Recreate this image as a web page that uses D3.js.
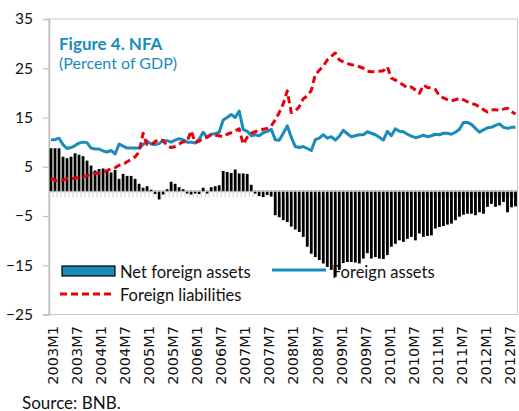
<!DOCTYPE html>
<html>
<head>
<meta charset="utf-8">
<script src="https://cdn.jsdelivr.net/npm/d3@7/dist/d3.min.js"></script>
<style>
  html, body { margin: 0; padding: 0; background: #fff; }
  svg { display: block; }
</style>
</head>
<body>
<svg id="chart" width="519" height="411"></svg>
<script>
// Monthly observations, 2003M1 – 2012M9 (percent of GDP)
const months = [];
for (let y = 2003; y <= 2012; y++) {
  for (let m = 1; m <= 12; m++) {
    if (y === 2012 && m > 9) break;
    months.push(y + "M" + m);
  }
}

const netForeignAssets = [
  8.6, 8.6, 8.6, 6.9, 6.6, 6.9, 7.6, 7.3, 7.0, 6.1, 5.1, 4.1,
  4.4, 4.5, 4.1, 3.7, 4.2, 2.4, 3.4, 3.0, 3.0, 2.4, 1.4, 0.6,
  0.9, 0.2, -0.4, -1.5, -0.5, 0.3, 1.8, 1.4, 0.7, 0.3, -0.3, -0.5,
  -0.3, -0.4, 0.6, -0.3, 0.7, 0.9, 1.1, 4.0, 3.8, 3.6, 4.3, 3.5,
  3.5, 3.4, 1.2, -0.3, -0.8, -1.0, -0.6, -0.9, -4.7, -5.1, -5.7, -6.1,
  -7.0, -7.6, -8.1, -9.1, -11.1, -12.5, -13.2, -13.8, -14.5, -15.2, -15.8, -17.2,
  -15.8, -14.4, -14.2, -14.2, -14.3, -14.5, -13.5, -12.4, -13.5, -13.2, -13.5, -13.6,
  -12.8, -11.1, -10.5, -9.8, -10.1, -9.5, -9.1, -9.8, -8.4, -9.1, -8.9, -8.8,
  -7.4, -7.1, -6.9, -6.6, -6.4, -5.7, -5.0, -4.6, -4.4, -4.4, -4.7, -4.1,
  -4.4, -3.0, -2.4, -3.0, -2.7, -2.0, -4.1, -3.1, -2.9
];

const foreignAssets = [
  10.5, 10.5, 10.8, 9.5, 8.7, 8.9, 9.3, 9.8, 10.0, 9.9, 8.8, 8.6,
  8.6, 8.2, 8.0, 8.3, 7.6, 9.6, 9.2, 8.8, 8.8, 8.8, 8.8, 9.5,
  10.2, 9.6, 9.5, 9.7, 10.3, 10.3, 10.0, 10.4, 10.7, 10.5, 10.0, 10.0,
  9.8, 10.6, 12.0, 11.0, 11.6, 11.7, 12.0, 14.5, 15.0, 15.6, 15.0, 16.3,
  12.6, 12.2, 11.3, 11.5, 11.3, 11.9, 12.2, 12.6, 10.5, 10.4, 11.8, 13.3,
  11.0, 9.1, 8.9, 9.1, 8.7, 8.3, 10.5, 10.8, 11.5, 10.8, 11.1, 10.4,
  11.2, 12.4, 11.7, 11.1, 11.3, 11.5, 11.5, 12.1, 11.8, 11.5, 11.0, 10.4,
  12.2, 11.3, 12.7, 12.2, 12.1, 11.6, 11.2, 10.9, 11.1, 11.4, 11.1, 11.3,
  11.6, 11.5, 11.8, 11.8, 11.6, 12.0, 12.6, 14.0, 14.0, 13.6, 12.8, 12.0,
  12.5, 12.9, 13.0, 13.4, 13.7, 13.0, 12.8, 13.0, 13.0
];

const foreignLiabilities = [
  2.7, 2.2, 2.1, 2.3, 2.6, 2.6, 2.7, 2.8, 2.9, 3.2, 3.5, 3.7,
  3.7, 4.0, 4.2, 4.6, 4.8, 5.3, 5.5, 6.0, 6.5, 7.0, 8.0, 11.8,
  9.5, 9.5, 10.1, 10.6, 10.3, 9.2, 8.9, 9.1, 9.6, 10.1, 10.1, 12.3,
  9.9, 10.2, 10.8, 11.0, 11.5, 11.4, 11.3, 11.1, 11.6, 11.9, 12.3, 12.7,
  9.6, 11.0, 11.8, 12.1, 12.4, 12.6, 12.8, 13.3, 14.5, 16.0, 17.8, 20.4,
  16.0, 16.3, 17.2, 18.8, 19.4, 20.5, 23.7, 24.6, 25.4, 26.7, 27.4, 28.1,
  26.7, 26.3, 26.0, 25.7, 25.6, 25.3, 25.0, 24.4, 24.3, 24.3, 24.4, 24.5,
  25.3, 23.0, 22.6, 22.1, 21.6, 21.0, 21.2, 20.6, 19.9, 21.6, 21.1, 21.0,
  20.7, 19.4, 19.0, 18.6, 18.4, 18.6, 18.9, 18.6, 18.2, 17.9, 17.6, 17.2,
  16.6, 16.1, 16.5, 16.6, 16.4, 16.7, 16.9, 16.2, 15.7
];

const yTicks = [35, 25, 15, 5, -5, -15, -25];
const xTickLabels = months.filter((d, i) => i % 6 === 0);

const titleText = "Figure 4. NFA";
const subtitleText = "(Percent of GDP)";
const sourceText = "Source: BNB.";
const seriesNames = ["Net foreign assets", "Foreign assets", "Foreign liabilities"];

// ---- drawing ----
const BLUE = "#1a8cba";
const RED = "#e8000b";
const GRID = "#c0c0c0";
const FONT = "Lato, 'Noto Sans', sans-serif";

const svg = d3.select("#chart");
const plot = { left: 49, right: 517.5, top: 19, bottom: 314.5 };

const x = d3.scaleBand()
  .domain(months)
  .range([plot.left, plot.right])
  .paddingInner(0)
  .paddingOuter(0);

const y = d3.scaleLinear()
  .domain([-25, 35])
  .range([plot.bottom, plot.top]);

// plot frame
svg.append("rect")
  .attr("x", plot.left).attr("y", plot.top)
  .attr("width", plot.right - plot.left)
  .attr("height", plot.bottom - plot.top)
  .attr("fill", "none")
  .attr("stroke", "#c8c8c8")
  .attr("stroke-width", 1);

// left value axis
const yAxis = svg.append("g")
  .attr("transform", `translate(${plot.left},0)`)
  .call(d3.axisLeft(y).tickValues(yTicks).tickSize(6).tickPadding(10).tickFormat(d3.format("d")));
yAxis.select(".domain").attr("stroke", GRID).attr("stroke-width", 1.6);
yAxis.selectAll(".tick line").attr("stroke", GRID).attr("stroke-width", 1.2);
yAxis.selectAll(".tick text")
  .attr("font-family", FONT).attr("font-size", 15.5).attr("fill", "#111");

// title
svg.append("text")
  .attr("x", 59).attr("y", 49.5)
  .attr("font-family", FONT).attr("font-size", 17).attr("font-weight", "bold")
  .attr("fill", BLUE)
  .text(titleText);
svg.append("text")
  .attr("x", 59).attr("y", 68.5)
  .attr("font-family", FONT).attr("font-size", 16)
  .attr("fill", BLUE)
  .text(subtitleText);

// legend (sits under the bars)
const legend = svg.append("g").attr("font-family", FONT).attr("font-size", 16.5).attr("fill", "#111");
legend.append("rect")
  .attr("x", 62).attr("y", 266).attr("width", 53).attr("height", 10)
  .attr("fill", BLUE).attr("stroke", "#000").attr("stroke-width", 1.2);
legend.append("text").attr("x", 120).attr("y", 277.5).text(seriesNames[0]);
legend.append("line")
  .attr("x1", 272).attr("x2", 326).attr("y1", 270).attr("y2", 270)
  .attr("stroke", BLUE).attr("stroke-width", 3);
legend.append("text").attr("x", 332).attr("y", 277.5).text(seriesNames[1]);
legend.append("line")
  .attr("x1", 60).attr("x2", 115).attr("y1", 294).attr("y2", 294)
  .attr("stroke", RED).attr("stroke-width", 3).attr("stroke-dasharray", "7,4");
legend.append("text").attr("x", 120).attr("y", 300.5).text(seriesNames[2]);

// bars: blue fill under a heavy black outline
const barW = 1.4;
svg.append("g")
  .selectAll("rect")
  .data(netForeignAssets)
  .join("rect")
  .attr("x", (d, i) => x(months[i]) + x.bandwidth() / 2 - barW / 2)
  .attr("y", d => Math.min(y(d), y(0)))
  .attr("width", barW)
  .attr("height", d => Math.abs(y(d) - y(0)))
  .attr("fill", BLUE)
  .attr("stroke", "#000")
  .attr("stroke-width", 1.4);

// category axis crossing at zero, ticks between categories
const zeroAxis = svg.append("g")
  .attr("transform", `translate(0,${y(0)})`);
zeroAxis.append("line")
  .attr("x1", plot.left).attr("x2", plot.right)
  .attr("stroke", GRID).attr("stroke-width", 1);
zeroAxis.selectAll("line.tk")
  .data(months)
  .join("line")
  .attr("class", "tk")
  .attr("x1", d => x(d)).attr("x2", d => x(d))
  .attr("y1", 0).attr("y2", 6)
  .attr("stroke", "#cfcfcf").attr("stroke-width", 1);

// lines
const line = d3.line()
  .x((d, i) => x(months[i]) + x.bandwidth() / 2)
  .y(d => y(d));

svg.append("path")
  .datum(foreignAssets)
  .attr("d", line)
  .attr("fill", "none")
  .attr("stroke", BLUE)
  .attr("stroke-width", 3)
  .attr("stroke-linejoin", "round");

svg.append("path")
  .datum(foreignLiabilities)
  .attr("d", line)
  .attr("fill", "none")
  .attr("stroke", RED)
  .attr("stroke-width", 3)
  .attr("stroke-dasharray", "7,4")
  .attr("stroke-linejoin", "round");

// rotated month labels below the plot
svg.append("g")
  .selectAll("text")
  .data(xTickLabels)
  .join("text")
  .attr("transform", d => `translate(${x(d) + x.bandwidth() / 2 + 2},326) rotate(-90)`)
  .attr("text-anchor", "end")
  .attr("dy", "0.36em")
  .attr("font-family", "'DejaVu Sans', sans-serif")
  .attr("font-size", 14.5)
  .attr("fill", "#111")
  .text(d => d);

// source note
svg.append("text")
  .attr("x", 22).attr("y", 408.5)
  .attr("font-family", FONT).attr("font-size", 17)
  .attr("fill", "#111")
  .text(sourceText);
</script>
</body>
</html>
